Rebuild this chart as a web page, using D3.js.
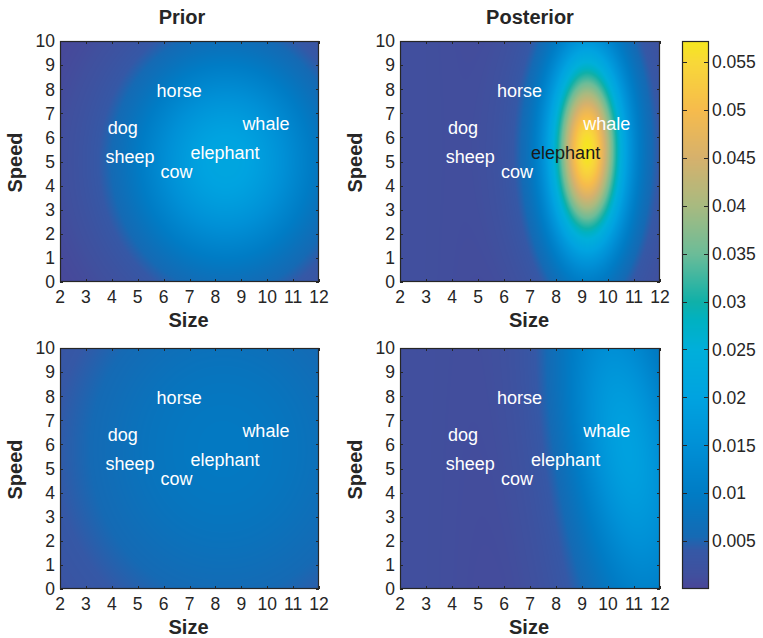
<!DOCTYPE html>
<html>
<head>
<meta charset="utf-8">
<script src="https://cdn.jsdelivr.net/npm/d3@7"></script>
<style>
  html, body { margin: 0; padding: 0; background: #ffffff; }
  svg text { font-family: "Liberation Sans", Arial, Helvetica, sans-serif; }
</style>
</head>
<body>
<svg id="chart" width="763" height="638"></svg>
<script>
// ---------------- DATA ----------------
const animals      = ["horse", "dog", "sheep", "cow", "elephant", "whale"];
const animalSize   = [6.6, 4.42, 4.7, 6.5, 8.37, 9.95];
const animalSpeed  = [7.95, 6.39, 5.2, 4.58, 5.37, 6.56];

const sizeTicks  = [2, 3, 4, 5, 6, 7, 8, 9, 10, 11, 12];
const speedTicks = [0, 1, 2, 3, 4, 5, 6, 7, 8, 9, 10];
const colorbarTicks = [0.005, 0.01, 0.015, 0.02, 0.025, 0.03, 0.035, 0.04, 0.045, 0.05, 0.055];
const colorRange = [0, 0.0572];

const panelTitles = ["Prior", "Posterior", "", ""];

// density components per panel: [centerSize, centerSpeed, sdSize, sdSpeed, peak, correlation]
const priorTop      = [[8.4, 5.0, 2.7, 3.3, 0.0210, 0.0]];
const posteriorTop  = [[9.2, 5.45, 0.88, 2.60, 0.0430, 0.0],
                       [9.2, 5.45, 1.70, 4.00, 0.0140, 0.0],
                       [2.5, 5.0, 2.20, 100,  0.0014, 0.0]];
const priorBottom   = [[8.3, 5.8, 5.0, 6.0, 0.0093, 0.0]];
const posteriorBottom = [[10.8, 5.8, 1.6, 4.5, 0.0125, -0.4],
                         [10.5, 6.0, 2.5, 12,  0.0070, -0.4],
                         [2.5, 5.0, 2.2, 100, 0.0014, 0.0]];
const panelComponents = [priorTop, posteriorTop, priorBottom, posteriorBottom];

// colour map (value stops)
const cmapValues = [0, 0.0015, 0.004, 0.0055, 0.008, 0.010, 0.015, 0.020, 0.025, 0.028, 0.030, 0.035, 0.040, 0.045, 0.050, 0.055, 0.0572];
const cmapColors = ["#4a4598", "#40509e", "#3558a6", "#156ab4", "#0874bd", "#007cc5", "#0090d6", "#00a3e0", "#00afda", "#00b1c2", "#10b0a8", "#6cbc98", "#a8ba80", "#d6b16c", "#f6bb4c", "#f8d838", "#f5e71e"];

// label colours per panel (style)
const labelColorPerPanel = [
  ["#fff", "#fff", "#fff", "#fff", "#fff", "#fff"],
  ["#fff", "#fff", "#fff", "#fff", "#1a1a1a", "#fff"],
  ["#fff", "#fff", "#fff", "#fff", "#fff", "#fff"],
  ["#fff", "#fff", "#fff", "#fff", "#fff", "#fff"]
];

// ---------------- LAYOUT ----------------
const panels = [
  { x0: 60,  x1: 319, y0: 41,  y1: 282, titleX: 182 },
  { x0: 400, x1: 660, y0: 41,  y1: 282, titleX: 530 },
  { x0: 60,  x1: 319, y0: 348, y1: 589, titleX: 189 },
  { x0: 400, x1: 660, y0: 348, y1: 589, titleX: 530 }
];
const cbar = { x0: 682, x1: 709, y0: 41, y1: 589 };
const ink = "#262626";
const tickFont = 17.5;

const svg = d3.select("#chart");
const color = d3.scaleLinear().domain(cmapValues).range(cmapColors).interpolate(d3.interpolateRgb).clamp(true);

function density(comps, x, y) {
  let v = 0;
  for (const c of comps) {
    const a = (x - c[0]) / c[2], b = (y - c[1]) / c[3], r = c[5];
    const q = (a * a - 2 * r * a * b + b * b) / (1 - r * r);
    v += c[4] * Math.exp(-q / 2);
  }
  return v;
}

panels.forEach((p, i) => {
  const xs = d3.scaleLinear().domain([2, 12]).range([p.x0, p.x1]);
  const ys = d3.scaleLinear().domain([0, 10]).range([p.y1, p.y0]);
  const w = p.x1 - p.x0, h = p.y1 - p.y0;
  const cv = document.createElement("canvas");
  cv.width = w; cv.height = h;
  const ctx = cv.getContext("2d");
  const img = ctx.createImageData(w, h);
  for (let py = 0; py < h; py++) {
    const yv = ys.invert(p.y0 + py + 0.5);
    for (let px = 0; px < w; px++) {
      const xv = xs.invert(p.x0 + px + 0.5);
      const c = d3.rgb(color(density(panelComponents[i], xv, yv)));
      const k = (py * w + px) * 4;
      img.data[k] = c.r; img.data[k + 1] = c.g; img.data[k + 2] = c.b; img.data[k + 3] = 255;
    }
  }
  ctx.putImageData(img, 0, 0);
  svg.append("image").attr("x", p.x0).attr("y", p.y0).attr("width", w).attr("height", h)
    .attr("preserveAspectRatio", "none").attr("href", cv.toDataURL());

  const g = svg.append("g");
  const tl = 3;
  sizeTicks.forEach(t => {
    const x = Math.round(xs(t)) + 0.5;
    g.append("line").attr("x1", x).attr("x2", x).attr("y1", p.y1).attr("y2", p.y1 - tl).attr("stroke", ink);
    g.append("line").attr("x1", x).attr("x2", x).attr("y1", p.y0).attr("y2", p.y0 + tl).attr("stroke", ink);
    g.append("text").attr("x", xs(t)).attr("y", p.y1 + 21).attr("text-anchor", "middle")
      .attr("font-size", tickFont).attr("fill", ink).text(t);
  });
  speedTicks.forEach(t => {
    const y = Math.round(ys(t)) + 0.5;
    g.append("line").attr("x1", p.x0).attr("x2", p.x0 + tl).attr("y1", y).attr("y2", y).attr("stroke", ink);
    g.append("line").attr("x1", p.x1).attr("x2", p.x1 - tl).attr("y1", y).attr("y2", y).attr("stroke", ink);
    g.append("text").attr("x", p.x0 - 5).attr("y", ys(t)).attr("dy", "0.36em").attr("text-anchor", "end")
      .attr("font-size", tickFont).attr("fill", ink).text(t);
  });
  g.append("rect").attr("x", p.x0 + 0.5).attr("y", p.y0 + 0.5).attr("width", w - 1).attr("height", h - 1)
    .attr("fill", "none").attr("stroke", ink).attr("stroke-width", 1.2);

  animals.forEach((a, j) => {
    g.append("text").attr("x", xs(animalSize[j])).attr("y", ys(animalSpeed[j])).attr("dy", "0.35em")
      .attr("text-anchor", "middle").attr("font-size", 18).attr("fill", labelColorPerPanel[i][j]).text(a);
  });

  g.append("text").attr("x", (p.x0 + p.x1) / 2 - 1).attr("y", p.y1 + 45).attr("text-anchor", "middle")
    .attr("font-size", 20).attr("font-weight", "bold").attr("fill", ink).text("Size");
  g.append("text").attr("transform", `translate(${p.x0 - 38},${(p.y0 + p.y1) / 2 + 1}) rotate(-90)`)
    .attr("text-anchor", "middle").attr("font-size", 20).attr("font-weight", "bold").attr("fill", ink).text("Speed");
  if (panelTitles[i]) {
    g.append("text").attr("x", p.titleX).attr("y", 24).attr("text-anchor", "middle")
      .attr("font-size", 20).attr("font-weight", "bold").attr("fill", ink).text(panelTitles[i]);
  }
});

// ---------------- COLOR BAR ----------------
const cs = d3.scaleLinear().domain(colorRange).range([cbar.y1, cbar.y0]);
{
  const w = cbar.x1 - cbar.x0, h = cbar.y1 - cbar.y0;
  const cv = document.createElement("canvas");
  cv.width = 1; cv.height = h;
  const ctx = cv.getContext("2d");
  for (let py = 0; py < h; py++) {
    ctx.fillStyle = color(cs.invert(cbar.y0 + py + 0.5));
    ctx.fillRect(0, py, 1, 1);
  }
  svg.append("image").attr("x", cbar.x0).attr("y", cbar.y0).attr("width", w).attr("height", h)
    .attr("preserveAspectRatio", "none").attr("href", cv.toDataURL());
  colorbarTicks.forEach(t => {
    const y = Math.round(cs(t)) + 0.5;
    svg.append("line").attr("x1", cbar.x0).attr("x2", cbar.x0 + 5).attr("y1", y).attr("y2", y).attr("stroke", ink);
    svg.append("line").attr("x1", cbar.x1).attr("x2", cbar.x1 - 5).attr("y1", y).attr("y2", y).attr("stroke", ink);
    svg.append("text").attr("x", cbar.x1 + 3).attr("y", cs(t)).attr("dy", "0.36em")
      .attr("font-size", tickFont).attr("fill", ink).text(t);
  });
  svg.append("rect").attr("x", cbar.x0 + 0.5).attr("y", cbar.y0 + 0.5).attr("width", w - 1).attr("height", h - 1)
    .attr("fill", "none").attr("stroke", ink).attr("stroke-width", 1.2);
}
</script>
</body>
</html>
